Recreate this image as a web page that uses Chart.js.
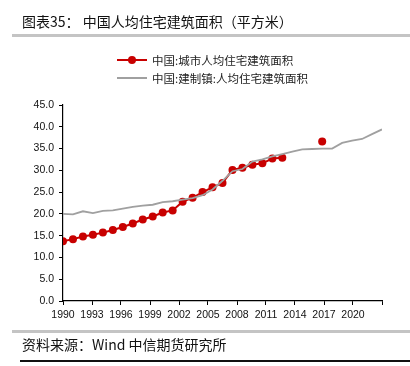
<!DOCTYPE html>
<html>
<head>
<meta charset="utf-8">
<script src="https://cdn.jsdelivr.net/npm/chart.js@4/dist/chart.umd.min.js"></script>
<style>
  html, body { margin:0; padding:0; background:#fff; }
  body { width:410px; height:366px; position:relative; overflow:hidden; font-family:"Noto Sans CJK SC","DejaVu Sans",sans-serif; }
  #title { position:absolute; left:22px; top:11px; font-size:14px; line-height:20px; color:#111; white-space:nowrap; }
  #rule1 { position:absolute; left:12px; right:0; top:34px; height:3px; background:#c4c4c4; }
  #rule2 { position:absolute; left:12px; right:0; top:330px; height:3px; background:#c4c4c4; }
  #rule3 { position:absolute; left:20px; right:0; top:360px; height:2px; background:#111; }
  #source { position:absolute; left:22px; top:334px; font-size:14px; line-height:20px; color:#111; white-space:nowrap; }
  #chartbox { position:absolute; left:0; top:0; width:410px; height:366px; }
  .leg { position:absolute; left:117px; font-size:11.5px; line-height:14px; color:#222; white-space:nowrap; }
  .leg .ln { position:absolute; left:0; top:6px; width:30px; height:0; }
  .leg .dot { position:absolute; left:11px; top:3px; width:8px; height:8px; border-radius:50%; }
  .leg .tx { position:absolute; left:35px; top:0; }
</style>
</head>
<body>
<div id="chartbox"><canvas id="c" width="410" height="366"></canvas></div>
<div id="title">图表35： 中国人均住宅建筑面积（平方米）</div>
<div id="rule1"></div>
<div class="leg" style="top:53px"><div class="ln" style="border-top:2px solid #c80000"></div><div class="dot" style="background:#c80000"></div><div class="tx" id="l0"></div></div>
<div class="leg" style="top:71px"><div class="ln" style="border-top:2px solid #a0a0a0"></div><div class="tx" id="l1"></div></div>
<div id="rule2"></div>
<div id="source">资料来源：Wind 中信期货研究所</div>
<div id="rule3"></div>
<script>
const years = [1990,1991,1992,1993,1994,1995,1996,1997,1998,1999,2000,2001,2002,2003,2004,2005,2006,2007,2008,2009,2010,2011,2012,2013,2014,2015,2016,2017,2018,2019,2020,2021,2022];
const urbanArea = [13.7,14.2,14.8,15.2,15.7,16.3,17.0,17.8,18.7,19.4,20.3,20.8,22.8,23.7,25.0,26.1,27.1,30.1,30.6,31.3,31.6,32.7,32.9,null,null,null,36.6,null,null,null,null,null,null];
const townArea = [20.0,19.9,20.6,20.2,20.7,20.8,21.2,21.6,21.9,22.1,22.7,22.9,23.3,23.6,24.3,25.6,27.6,29.8,30.3,32.0,32.5,33.2,33.7,34.3,34.8,34.9,35.0,35.0,36.3,36.8,37.2,38.3,39.4];
const seriesNames = ['中国:城市人均住宅建筑面积','中国:建制镇:人均住宅建筑面积'];
const xTickLabels = ['1990','1993','1996','1999','2002','2005','2008','2011','2014','2017','2020',''];
const yTicks = [0,5,10,15,20,25,30,35,40,45];

document.getElementById('l0').textContent = seriesNames[0];
document.getElementById('l1').textContent = seriesNames[1];

const pts = arr => years.map((y,i)=>({x:y, y:arr[i]}));
const tickFont = { family:"'Liberation Sans', sans-serif", size:10.5 };

new Chart(document.getElementById('c'), {
  type:'line',
  data:{
    datasets:[
      { label:seriesNames[0], data:pts(urbanArea), borderColor:'#c80000', backgroundColor:'#c80000', borderWidth:2,
        pointRadius:4, pointHoverRadius:4, pointBorderWidth:0, spanGaps:false, tension:0, order:1 },
      { label:seriesNames[1], data:pts(townArea), borderColor:'#a0a0a0', backgroundColor:'#a0a0a0', borderWidth:1.8,
        pointRadius:0, tension:0, order:0 }
    ]
  },
  options:{
    responsive:false, animation:false, devicePixelRatio:1,
    layout:{ padding:{ left:0, top:105, right:28, bottom:35 } },
    plugins:{ legend:{display:false}, tooltip:{enabled:false} },
    scales:{
      x:{ type:'linear', min:years[0], max:years[years.length-1],
        afterBuildTicks: s => { const n = xTickLabels.length-1; s.ticks = xTickLabels.map((_,i)=>({value: s.min + i*(s.max-s.min)/n})); },
        afterFit: s => { s.height = 30; },
        grid:{ display:true, drawOnChartArea:false, drawTicks:true, tickLength:4, color:'#000', lineWidth:1 },
        border:{ display:true, color:'#000', width:1.2 },
        ticks:{ autoSkip:false, maxRotation:0, padding:4, color:'#111', font:tickFont,
          callback:(v,i)=>xTickLabels[i] }
      },
      y:{ min:0, max:45,
        afterBuildTicks: s => { s.ticks = yTicks.map(v=>({value:v})); },
        afterFit: s => { s.width = 63; },
        grid:{ display:true, drawOnChartArea:false, drawTicks:true, tickLength:4, color:'#000', lineWidth:1 },
        border:{ display:true, color:'#000', width:1.2 },
        ticks:{ padding:5, color:'#111', font:tickFont, callback:v=>Number(v).toFixed(1) }
      }
    }
  }
});
</script>
</body>
</html>
